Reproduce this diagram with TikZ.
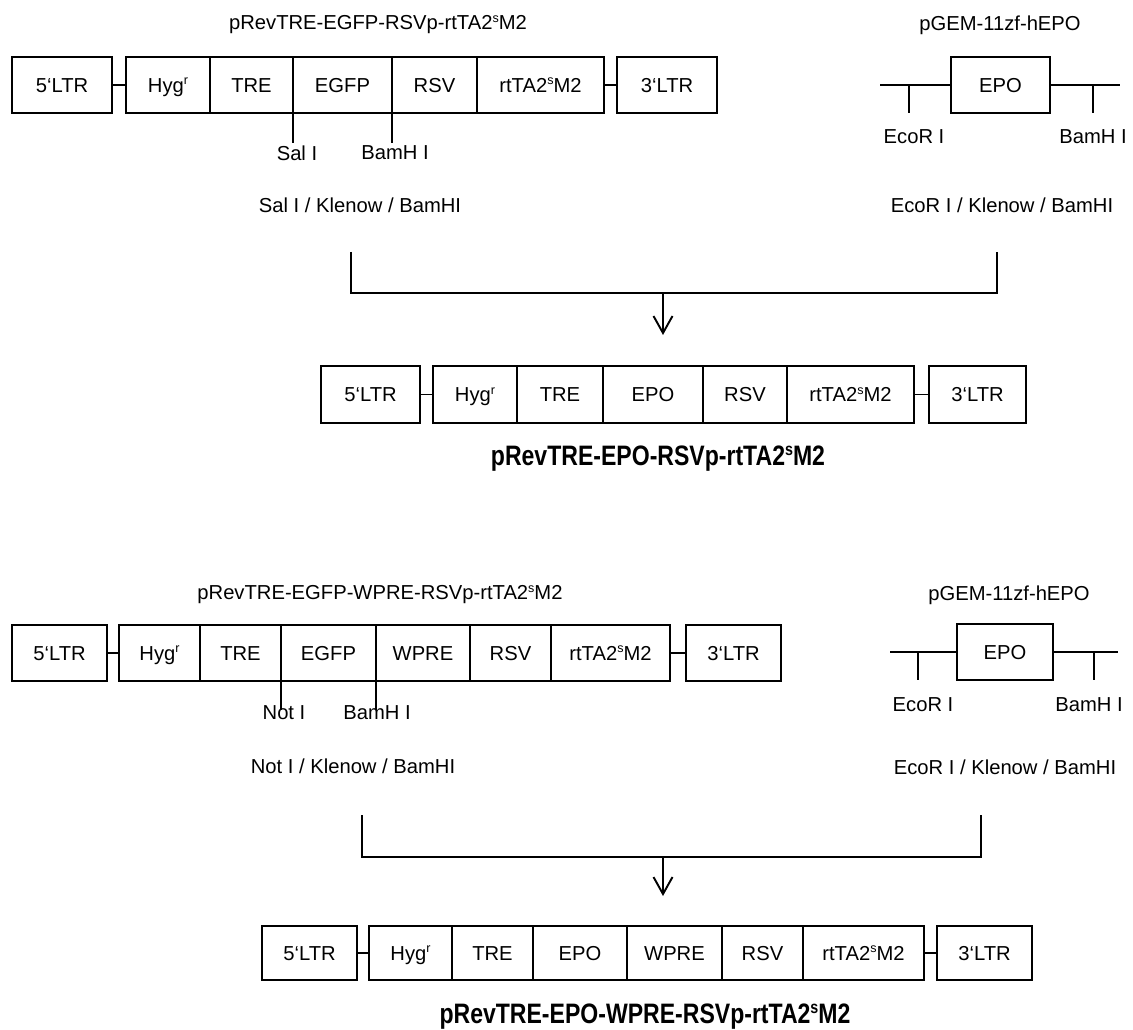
\documentclass[tikz,border=0pt]{standalone}
\usepackage{fontspec}
\setmainfont{Liberation Sans}
\usepackage{graphicx}
\usetikzlibrary{arrows.meta}
\newcommand\normfont{\fontsize{11.5}{13}\selectfont}
\newcommand\boldttl{\fontsize{16}{18}\selectfont\bfseries}
\newcommand\supr[1]{\smash{\raisebox{0.36em}{\scalebox{0.62}{#1}}}}
\tikzset{
  segbox/.style={draw, line width=1.1pt, inner sep=0pt, outer sep=0pt, font=\normfont, text height=8.2pt, text depth=0pt},
  lbl/.style={inner sep=0pt, font=\normfont},
  ttl/.style={inner sep=0pt, font=\boldttl},
  ln/.style={line width=1.1pt},
  arr/.style={line width=1.1pt, -{Straight Barb[length=0.34cm,width=0.38cm]}},
}
\newcommand\mkseg[6]{\node[segbox, minimum width={(#3-#2)*0.02cm}, minimum height={(#5-#4)*0.02cm}] (#1) at ({(#2+#3)/2},{(#4+#5)/2}) {#6};}
\begin{document}
\begin{tikzpicture}[x=0.02cm,y=-0.02cm]
\useasboundingbox (0,0) rectangle (1133,1030);

% ---------- Row 1 ----------
\node[lbl] (aTitle) at (378,25) {pRevTRE-EGFP-RSVp-rtTA2\supr{s}M2};
\mkseg{aL5}{12}{112}{57}{113}{5`LTR}
\mkseg{aHyg}{126}{210}{57}{113}{Hyg\supr{r}}
\mkseg{aTRE}{210}{293}{57}{113}{TRE}
\mkseg{aEGFP}{293}{392}{57}{113}{EGFP}
\mkseg{aRSV}{392}{477}{57}{113}{RSV}
\mkseg{aRT}{477}{604}{57}{113}{rtTA2\supr{s}M2}
\mkseg{aL3}{617}{717}{57}{113}{3`LTR}
\draw[ln] (aL5) -- (aHyg);
\draw[ln] (aRT) -- (aL3);
\coordinate (aCut1) at (293,143);
\coordinate (aCut2) at (392,143);
\draw[ln] (aEGFP.south west) -- (aCut1);
\draw[ln] (aEGFP.south east) -- (aCut2);
\node[lbl] (aSal) at (297,153) {Sal I};
\node[lbl] (aBam) at (395,153) {BamH I};
\node[lbl] (aKlen) at (360,205) {Sal I / Klenow / BamHI};

\node[lbl] (bTitle) at (1000,25) {pGEM-11zf-hEPO};
\mkseg{bEPO}{951}{1050}{57}{113}{EPO}
\coordinate (bL) at (880,85);
\coordinate (bR) at (1120,85);
\draw[ln] (bL) -- (bEPO.west);
\draw[ln] (bEPO.east) -- (bR);
\coordinate (bT1) at (909,85);
\coordinate (bT1e) at (909,113);
\coordinate (bT2) at (1093,85);
\coordinate (bT2e) at (1093,113);
\draw[ln] (bT1) -- (bT1e);
\draw[ln] (bT2) -- (bT2e);
\node[lbl] (bEco) at (914,137) {EcoR I};
\node[lbl] (bBam) at (1093,137) {BamH I};
\node[lbl] (bKlen) at (1002,205) {EcoR I / Klenow / BamHI};

% bracket 1
\coordinate (k1a) at (351,252);
\coordinate (k1b) at (351,293);
\coordinate (k1c) at (997,293);
\coordinate (k1d) at (997,252);
\draw[ln] (k1a) -- (k1b) -- (k1c) -- (k1d);
\coordinate (k1m) at (663,293);
\coordinate (k1t) at (663,335);
\draw[arr] (k1m) -- (k1t);

% ---------- Row 2 ----------
\mkseg{cL5}{321}{420}{366}{423}{5`LTR}
\mkseg{cHyg}{433}{517}{366}{423}{Hyg\supr{r}}
\mkseg{cTRE}{517}{603}{366}{423}{TRE}
\mkseg{cEPO}{603}{703}{366}{423}{EPO}
\mkseg{cRSV}{703}{787}{366}{423}{RSV}
\mkseg{cRT}{787}{914}{366}{423}{rtTA2\supr{s}M2}
\mkseg{cL3}{929}{1026}{366}{423}{3`LTR}
\draw[ln] (cL5) -- (cHyg);
\draw[ln] (cRT) -- (cL3);
\node[ttl] (cTitle) at (658,459) {\scalebox{0.82}[1]{pRevTRE-EPO-RSVp-rtTA2\supr{s}M2}};

% ---------- Row 3 ----------
\node[lbl] (dTitle) at (380,595) {pRevTRE-EGFP-WPRE-RSVp-rtTA2\supr{s}M2};
\mkseg{dL5}{12}{107}{625}{681}{5`LTR}
\mkseg{dHyg}{119}{200}{625}{681}{Hyg\supr{r}}
\mkseg{dTRE}{200}{281}{625}{681}{TRE}
\mkseg{dEGFP}{281}{376}{625}{681}{EGFP}
\mkseg{dWPRE}{376}{470}{625}{681}{WPRE}
\mkseg{dRSV}{470}{551}{625}{681}{RSV}
\mkseg{dRT}{551}{670}{625}{681}{rtTA2\supr{s}M2}
\mkseg{dL3}{686}{781}{625}{681}{3`LTR}
\draw[ln] (dL5) -- (dHyg);
\draw[ln] (dRT) -- (dL3);
\coordinate (dCut1) at (281,710);
\coordinate (dCut2) at (376,710);
\draw[ln] (dEGFP.south west) -- (dCut1);
\draw[ln] (dEGFP.south east) -- (dCut2);
\node[lbl] (dNot) at (284,713) {Not I};
\node[lbl] (dBam) at (377,713) {BamH I};
\node[lbl] (dKlen) at (353,766) {Not I / Klenow / BamHI};

\node[lbl] (eTitle) at (1009,595) {pGEM-11zf-hEPO};
\mkseg{eEPO}{957}{1053}{624}{680}{EPO}
\coordinate (eL) at (890,652);
\coordinate (eR) at (1118,652);
\draw[ln] (eL) -- (eEPO.west);
\draw[ln] (eEPO.east) -- (eR);
\coordinate (eT1) at (918,652);
\coordinate (eT1e) at (918,680);
\coordinate (eT2) at (1094,652);
\coordinate (eT2e) at (1094,680);
\draw[ln] (eT1) -- (eT1e);
\draw[ln] (eT2) -- (eT2e);
\node[lbl] (eEco) at (923,705) {EcoR I};
\node[lbl] (eBam) at (1089,705) {BamH I};
\node[lbl] (eKlen) at (1005,767) {EcoR I / Klenow / BamHI};

% bracket 2
\coordinate (k2a) at (362,815);
\coordinate (k2b) at (362,857);
\coordinate (k2c) at (981,857);
\coordinate (k2d) at (981,815);
\draw[ln] (k2a) -- (k2b) -- (k2c) -- (k2d);
\coordinate (k2m) at (663,857);
\coordinate (k2t) at (663,896);
\draw[arr] (k2m) -- (k2t);

% ---------- Row 4 ----------
\mkseg{fL5}{262}{357}{926}{980}{5`LTR}
\mkseg{fHyg}{369}{452}{926}{980}{Hyg\supr{r}}
\mkseg{fTRE}{452}{533}{926}{980}{TRE}
\mkseg{fEPO}{533}{627}{926}{980}{EPO}
\mkseg{fWPRE}{627}{722}{926}{980}{WPRE}
\mkseg{fRSV}{722}{803}{926}{980}{RSV}
\mkseg{fRT}{803}{924}{926}{980}{rtTA2\supr{s}M2}
\mkseg{fL3}{937}{1032}{926}{980}{3`LTR}
\draw[ln] (fL5) -- (fHyg);
\draw[ln] (fRT) -- (fL3);
\node[ttl] (fTitle) at (645,1017) {\scalebox{0.82}[1]{pRevTRE-EPO-WPRE-RSVp-rtTA2\supr{s}M2}};
\end{tikzpicture}
\end{document}
